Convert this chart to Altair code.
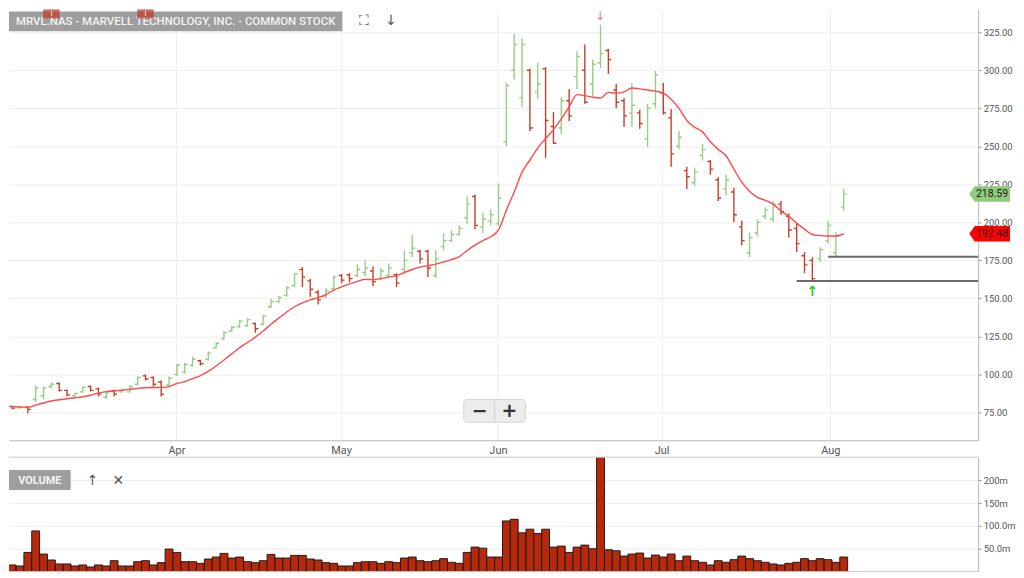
import json
import altair as alt
import pandas as pd

# ---------------- data ----------------
opens = [80.5, 79, 78, 78.5, 83.5, 86, 92, 94, 89.5, 86,
         88.5, 92, 90.5, 85, 89, 88.5, 88.5, 93.5, 99, 98,
         95, 93, 100, 101.5, 106, 109, 110, 117.5, 123.5, 128.5,
         131.5, 132, 133.5, 133, 144.5, 148, 152, 158.5, 169, 161.5,
         154, 151, 156.5, 165, 165.5, 165, 167, 168, 163, 165,
         165.5, 169, 180, 181, 181, 165, 184, 188, 192, 203,
         217, 197, 201, 199, 253, 300, 282, 300, 286, 301,
         263, 262, 280, 296, 300, 291, 305, 313, 287, 280,
         272, 272, 255, 278, 285, 268.7, 250, 234, 226, 244,
         240, 228, 222, 220, 197, 180, 193, 204, 202, 212,
         204, 196, 178, 175, 176, 188, 180, 210]
highs = [81.5, 79.3, 79, 79, 92.7, 92, 94.6, 94.6, 90, 88,
         92, 92.7, 91.4, 88.7, 90, 90.7, 92.7, 98.6, 100, 98.6,
         96, 98.6, 107, 107.7, 111.6, 109.7, 115, 121, 128.7, 132,
         136, 137, 134, 139, 149.6, 151.6, 158, 166.6, 170.5, 162.7,
         155.5, 156.8, 165, 166, 166.6, 172.5, 175, 171, 170, 173,
         166.6, 181.7, 191.5, 182, 182, 181.7, 192.8, 194.7, 198, 217,
         218.3, 206.5, 208.5, 225.5, 292, 324, 321, 301, 305, 302,
         272.6, 282.5, 287.7, 312.6, 317, 307, 330, 314, 291, 281.8,
         291.6, 274, 278, 299.5, 291.6, 274.6, 260, 236.6, 236, 251.7,
         241, 229.7, 231.4, 222.8, 201, 193.5, 202, 210, 214, 214,
         205.8, 199, 180.4, 177, 183.6, 201, 193.5, 222]
lows = [78.5, 77, 77.5, 74.5, 82, 83.5, 90.7, 88.7, 85.5, 85.5,
        88, 88.7, 85.5, 84, 85.5, 88, 88, 92.7, 96, 92,
        85.5, 92, 99, 100.5, 105, 105.8, 109, 117, 122.8, 128,
        130.6, 131.3, 127.4, 132.6, 143.7, 147, 151, 157.5, 157.5, 151,
        146, 150, 155.5, 160, 160.7, 164, 164.6, 158, 162, 164,
        157.5, 167, 177, 173, 164, 163.4, 181.7, 187, 191.5, 199,
        195.4, 193, 198, 198, 250, 294, 276, 260, 281, 242.5,
        251.7, 258, 266.7, 287.7, 278, 283, 301.4, 297.5, 275, 262.8,
        262.8, 261.5, 249.7, 275, 271, 236.6, 248, 222, 224, 240.6,
        231.4, 214, 217.7, 200, 185, 177, 190.8, 202, 200, 205,
        190, 180.4, 166.6, 161.5, 173.8, 186, 177.5, 207.8]
closes = [79.5, 77.8, 78.5, 77, 91, 91, 93.5, 89.5, 86.5, 87.5,
          91.5, 89.5, 87, 88, 87, 90, 92, 98, 97, 93.5,
          87, 97.5, 106, 106.5, 110, 107, 114, 120.5, 127.5, 131,
          135, 136, 130, 138.5, 148, 150.5, 157, 166, 164, 156,
          149, 155, 164, 162, 163, 169, 170, 161, 168, 170,
          160, 175, 183, 176, 170, 176, 188, 192, 196, 212,
          198, 202, 205, 216, 290, 317, 317, 262, 291, 267,
          252, 280, 270, 309, 279, 304, 311, 307, 279, 270,
          277, 265, 275, 297, 272, 245, 256, 230, 233, 248,
          235, 216, 228, 205, 188, 190, 200, 208, 212, 207,
          195, 186, 172, 163, 182, 198, 191, 218.59]
moving_avg = [79, 78.8, 78.6, 78.3, 79.8, 81.2, 82.5, 83.3, 84, 84.6,
              85.3, 86.3, 87.8, 88.7, 89.2, 89.6, 90.2, 90.8, 91.2, 91.4,
              91.4, 92, 94, 95.2, 97.2, 99.2, 102, 105.5, 109.5, 113.5,
              117.5, 121, 124.5, 128.5, 133, 137, 141, 144.5, 147, 149,
              150.5, 152.5, 155.5, 157.5, 159.5, 161.2, 162.5, 162.3, 163, 164,
              165, 167, 169, 170.5, 171.5, 172.5, 174, 175.5, 177.5, 181.5,
              185, 188, 190.5, 195, 208, 220, 233, 241, 249, 255,
              261, 268, 276, 284, 283.3, 282.3, 281.8, 285.5, 285, 285.8,
              288.4, 287.8, 287, 286.3, 285, 281, 275, 267, 262.5, 259.5,
              253, 248, 243.8, 235, 226.5, 220.5, 216.4, 214.5, 212, 207.5,
              204, 199.5, 195.5, 192, 191.3, 191, 191, 192.5]
volume_m = [14.5, 14.5, 12.3, 42, 89, 38.4, 25.4, 16.7, 16.7, 12.3,
            14.5, 10.1, 14.5, 12.3, 23.9, 12.3, 12.3, 21.7, 23.9, 14.5,
            19.6, 49.3, 42, 21.7, 21.7, 18.1, 27.5, 31.9, 39.9, 29.7,
            31.9, 21.7, 19.6, 23.9, 37.7, 29.7, 29.7, 35.5, 35.5, 27.5,
            25.4, 19.6, 18.1, 12.3, 12.3, 19.6, 21.7, 21.7, 18.1, 21.7,
            19.6, 29.7, 31.9, 23.9, 21.7, 23.9, 28.3, 20.3, 18.1, 42,
            53.6, 51.4, 31.9, 31.9, 110.9, 114.5, 84.8, 92.8, 83.3, 92.8,
            53.6, 55.8, 42, 53.6, 58, 50, 256, 47.8, 45.6, 34,
            38.4, 40.6, 29.7, 36.2, 31.9, 38.4, 23.9, 34, 23.9, 20.3,
            14.5, 23.9, 20.3, 26.1, 34, 28.3, 23.9, 20.3, 16.7, 14.5,
            18.1, 20.3, 28.3, 23.9, 28.3, 26.1, 20.3, 31.9]

month_pos = [21.94, 42.93, 62.92, 83.79, 105.29]
month_labels = ["Apr", "May", "Jun", "Jul", "Aug"]
price_ticks = [75, 100, 125, 150, 175, 200, 225, 250, 275, 300, 325]
volume_ticks = [50, 100, 150, 200]

support_start = [101, 105]
support_level = [161.5, 177.3]
last_price = 218.59
avg_price = 192.48
event_bars = [6, 18]
high_bar, low_bar = 76, 103
title_text = "MRVL.NAS - MARVELL TECHNOLOGY, INC. - COMMON STOCK"

# ---------------- layout constants ----------------
W = 974
H_PRICE = 433
H_VOL = 115
X_DOMAIN = [0.6, 124.14]
GREEN = "#95ce84"
RED = "#c63f28"
FONT = "Roboto"
LBL = 9.5

df = pd.DataFrame({
    "i": list(range(len(opens))),
    "o": opens, "h": highs, "l": lows, "c": closes,
    "ma": moving_avg, "vol": volume_m,
})
df["dir"] = ["up" if c >= o else "down" for o, c in zip(opens, closes)]

xscale = alt.Scale(domain=X_DOMAIN, nice=False, zero=False)
yscale = alt.Scale(domain=[56.68, 340.05], nice=False, zero=False)
color = alt.Color("dir:N", scale=alt.Scale(domain=["up", "down"], range=[GREEN, RED]), legend=None)

label_expr = "%s[indexof(%s, datum.value)]" % (json.dumps(month_labels), json.dumps(month_pos))
xaxis = alt.Axis(values=month_pos, labelExpr=label_expr, grid=True, gridColor="#ededed",
                 ticks=False, domainColor="#b5b5b5", labelColor="#555", labelFontSize=11,
                 labelPadding=4, title=None, labelFont=FONT)
yaxis = alt.Axis(orient="right", values=price_ticks, format=".2f", grid=True, gridColor="#ededed",
                 tickColor="#999", tickSize=3, domainColor="#b5b5b5", labelColor="#555",
                 labelFontSize=LBL, labelPadding=2, title=None, labelFont=FONT)

base = alt.Chart(df)

hl = base.mark_rule(strokeWidth=1.4, clip=True).encode(
    x=alt.X("i:Q", scale=xscale, axis=xaxis),
    y=alt.Y("l:Q", scale=yscale, axis=yaxis),
    y2="h:Q",
    color=color,
)
open_tick = base.transform_calculate(io="datum.i - 0.38").mark_rule(strokeWidth=1.4, clip=True).encode(
    x=alt.X("io:Q", scale=xscale), x2="i:Q", y=alt.Y("o:Q", scale=yscale), color=color)
close_tick = base.transform_calculate(ic="datum.i + 0.38").mark_rule(strokeWidth=1.4, clip=True).encode(
    x=alt.X("i:Q", scale=xscale), x2="ic:Q", y=alt.Y("c:Q", scale=yscale), color=color)

ma_line = base.mark_line(color="#ff4a4a", strokeWidth=1.4, clip=True, interpolate="monotone").encode(
    x=alt.X("i:Q", scale=xscale), y=alt.Y("ma:Q", scale=yscale))

sup_df = pd.DataFrame({"s": support_start, "v": support_level})
support = alt.Chart(sup_df).mark_rule(color="#6a6a6a", strokeWidth=2).encode(
    x=alt.X("s:Q", scale=xscale), x2=alt.value(W), y=alt.Y("v:Q", scale=yscale))

tag_shape = "M-1,0 L-0.73,-0.38 L1,-0.38 L1,0.38 L-0.73,0.38 Z"
TAG_X = 985.5


def price_tag(value, fill):
    d = pd.DataFrame({"v": [value], "lab": ["%.2f" % value]})
    shape = alt.Chart(d).mark_point(shape=tag_shape, filled=True, size=1681, opacity=1,
                                    color=fill, strokeWidth=0).encode(
        x=alt.value(TAG_X), y=alt.Y("v:Q", scale=yscale))
    txt = alt.Chart(d).mark_text(align="right", baseline="middle", fontSize=10.5, font=FONT,
                                 color="#1e1e1e").encode(
        x=alt.value(TAG_X + 18.5), y=alt.Y("v:Q", scale=yscale), text="lab:N")
    return shape + txt


last_tag = price_tag(last_price, "#8fca7c")
avg_tag = price_tag(avg_price, "#ff0000")

hi_df = df[df["i"] == high_bar]
lo_df = df[df["i"] == low_bar]
hi_arrow = alt.Chart(hi_df).mark_text(text="↓", color="#f07a7a", fontSize=12, dy=-9, font="DejaVu Sans").encode(
    x=alt.X("i:Q", scale=xscale), y=alt.Y("h:Q", scale=yscale))
lo_arrow = alt.Chart(lo_df).mark_text(text="↑", color="#22cc22", fontSize=14, fontWeight="bold", dy=11,
                                      font="DejaVu Sans").encode(
    x=alt.X("i:Q", scale=xscale), y=alt.Y("l:Q", scale=yscale))

ttl = pd.DataFrame({"t": [title_text]})
title_box = alt.Chart(ttl).mark_rect(fill="#9e9e9e").encode(
    x=alt.value(0), x2=alt.value(335), y=alt.value(2), y2=alt.value(22))
title_txt = alt.Chart(ttl).mark_text(align="left", baseline="middle", fontSize=11.5, font=FONT,
                                     fontWeight=500, color="#f2f2f2").encode(
    x=alt.value(7), y=alt.value(13), text="t:N")

ev_df = pd.DataFrame({"i": event_bars})
events = alt.Chart(ev_df).transform_calculate(a="datum.i - 1.05", b="datum.i + 1.05").mark_rect(
    fill="#c0392b", opacity=0.72).encode(
    x=alt.X("a:Q", scale=xscale), x2="b:Q", y=alt.value(0), y2=alt.value(9))
events_txt = alt.Chart(ev_df).mark_text(text="I", color="white", fontSize=7, baseline="top",
                                        font=FONT).encode(
    x=alt.X("i:Q", scale=xscale), y=alt.value(0.5))

icons = alt.Chart(pd.DataFrame({"t": ["⛶", "↓"], "px": [357, 384]})).mark_text(
    color="#555555", fontSize=14, baseline="middle", font="DejaVu Sans").encode(
    x=alt.X("px:Q", scale=None), y=alt.value(12), text="t:N")

zoom_box = alt.Chart(pd.DataFrame({"a": [0]})).mark_rect(
    fill="#ececec", stroke="#d6d6d6", cornerRadius=3).encode(
    x=alt.value(457), x2=alt.value(519), y=alt.value(392), y2=alt.value(415))
zoom_div = alt.Chart(pd.DataFrame({"a": [0]})).mark_rule(color="#d0d0d0").encode(
    x=alt.value(488), y=alt.value(393), y2=alt.value(414))
zoom_txt = alt.Chart(pd.DataFrame({"t": ["−", "+"], "px": [473, 503]})).mark_text(
    color="#333", fontSize=19, fontWeight="bold", baseline="middle", font="DejaVu Sans").encode(
    x=alt.X("px:Q", scale=None), y=alt.value(403.5), text="t:N")

price = alt.layer(
    hl, open_tick, close_tick, ma_line, support, hi_arrow, lo_arrow,
    zoom_box, zoom_div, zoom_txt, title_box, title_txt, events, events_txt, icons,
    last_tag, avg_tag,
).properties(width=W, height=H_PRICE)

# ---------------- volume panel ----------------
vol_label_expr = "datum.value >= 150 ? format(datum.value, 'd') + 'm' : format(datum.value, '.1f') + 'm'"
vaxis = alt.Axis(orient="right", values=volume_ticks, labelExpr=vol_label_expr, grid=True,
                 gridColor="#ededed", tickColor="#999", tickSize=3, domainColor="#b5b5b5",
                 labelColor="#555", labelFontSize=LBL, labelPadding=2, title=None, labelFont=FONT)
vscale = alt.Scale(domain=[0, 250.5], nice=False, zero=False)

vol_bars = base.transform_calculate(a="datum.i - 0.5", b="datum.i + 0.5", z="0").mark_rect(
    fill="#b8290b", stroke="#1c1c1c", strokeWidth=1, clip=True).encode(
    x=alt.X("a:Q", scale=xscale, axis=None), x2="b:Q",
    y=alt.Y("vol:Q", scale=vscale, axis=vaxis), y2="z:Q")

one = pd.DataFrame({"a": [0]})
vol_top = alt.Chart(one).mark_rule(color="#c8c8c8").encode(x=alt.value(0), x2=alt.value(W), y=alt.value(0))
vol_bottom = alt.Chart(one).mark_rule(color="#c8c8c8").encode(x=alt.value(0), x2=alt.value(W), y=alt.value(H_VOL))
vol_box = alt.Chart(one).mark_rect(fill="#9e9e9e").encode(
    x=alt.value(0), x2=alt.value(62), y=alt.value(13), y2=alt.value(33))
vol_txt = alt.Chart(pd.DataFrame({"t": ["VOLUME"]})).mark_text(
    color="#f4f4f4", fontSize=11, fontWeight="bold", baseline="middle", font=FONT).encode(
    x=alt.value(31), y=alt.value(23.5), text="t:N")
vol_icons = alt.Chart(pd.DataFrame({"t": ["↑", "✕"], "px": [84, 110]})).mark_text(
    color="#555555", fontSize=14, baseline="middle", font="DejaVu Sans").encode(
    x=alt.X("px:Q", scale=None), y=alt.value(23.5), text="t:N")

volume = alt.layer(vol_bars, vol_top, vol_bottom, vol_box, vol_txt, vol_icons).properties(
    width=W, height=H_VOL)

chart = alt.vconcat(price, volume, spacing=17, bounds="flush").properties(
    padding=0, background="white"
).configure_view(stroke=None).configure_text(font=FONT)

chart.save("out.html", embed_options={"renderer": "svg", "actions": False})
